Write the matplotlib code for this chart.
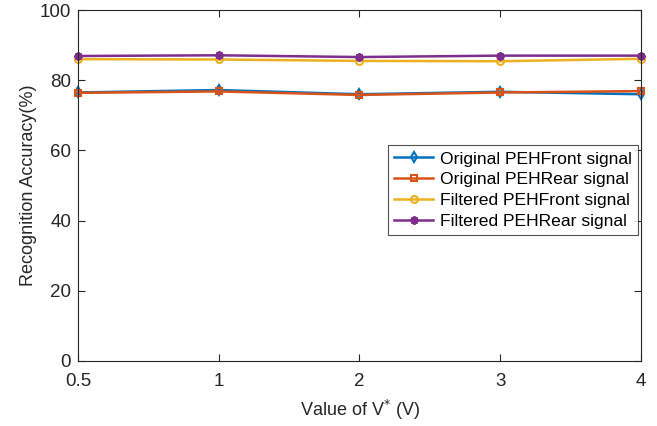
import matplotlib
matplotlib.use("Agg")
import matplotlib.pyplot as plt
import numpy as np

x_labels = ["0.5", "1", "2", "3", "4"]
orig_front = [76.5, 77.2, 76.0, 76.7, 76.0]
orig_rear = [76.4, 76.8, 75.8, 76.5, 76.9]
filt_front = [86.0, 85.9, 85.5, 85.4, 86.1]
filt_rear = [86.9, 87.1, 86.6, 87.0, 87.0]
series_names = ["Original PEHFront signal", "Original PEHRear signal",
                "Filtered PEHFront signal", "Filtered PEHRear signal"]

plt.rcParams['font.family'] = ['Liberation Sans', 'DejaVu Sans']
fig = plt.figure(figsize=(6.57, 4.26), dpi=100)
ax = fig.add_axes([0.1187, 0.1526, 0.8569, 0.8239])

xs = np.arange(len(x_labels))
styles = [("#0072BD", "d", orig_front, 5), ("#D95319", "s", orig_rear, 4.5),
          ("#EDB120", "o", filt_front, 5), ("#7E2F8E", (8, 2, 0), filt_rear, 6)]
for (c, m, vals, ms), name in zip(styles, series_names):
    ax.plot(xs, vals, color=c, marker=m, markersize=ms, markerfacecolor='none',
            markeredgewidth=1.5, linewidth=1.8, label=name, clip_on=False)

ax.set_xlim(0, len(x_labels) - 1)
ax.set_ylim(0, 100)
ax.set_xticks(xs)
ax.set_xticklabels(x_labels)
ax.set_yticks(np.arange(0, 101, 20))
ax.tick_params(direction='in', top=True, right=True, labelsize=13.5, colors='#262626', length=5)
ax.tick_params(axis='x', pad=9)
ax.tick_params(axis='y', pad=5)
for s in ax.spines.values():
    s.set_color('#262626')
    s.set_linewidth(0.8)
ax.set_xlabel("Value of V$^{*}$ (V)", fontsize=13, color='#262626', labelpad=5)
ax.set_ylabel("Recognition Accuracy(%)", fontsize=13, color='#262626', labelpad=2)

leg = ax.legend(loc='upper right', bbox_to_anchor=(0.9947, 0.615), fontsize=12.6,
                frameon=True, fancybox=False, edgecolor='#262626', handlelength=2.2,
                borderpad=0.35, labelspacing=0.32, handletextpad=0.4, borderaxespad=0)
leg.get_frame().set_linewidth(0.8)

fig.savefig("out.png", dpi=100)
